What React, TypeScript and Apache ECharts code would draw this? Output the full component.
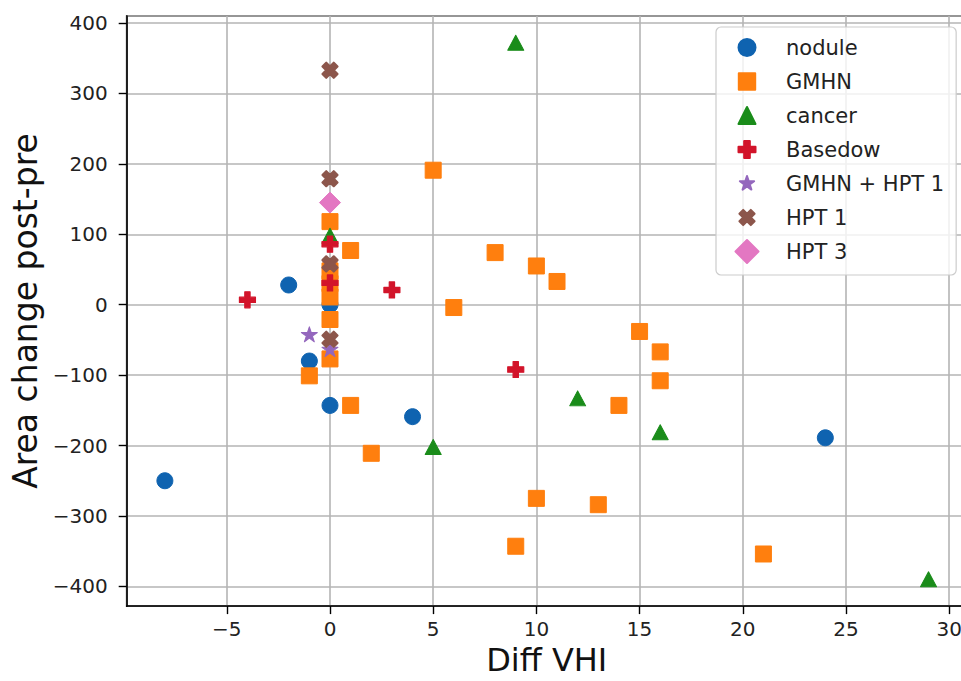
import React, { useEffect, useRef } from 'react';
import * as echarts from 'echarts';

// ---- data ----
const seriesNames = ['nodule', 'GMHN', 'cancer', 'Basedow', 'GMHN + HPT 1', 'HPT 1', 'HPT 3'];

const noduleX = [-8, -2, -1, 0, 0, 4, 24];
const noduleY = [-250, 28, -80, 0, -143, -159, -189];

const gmhnX = [5, 0, 1, 8, 10, 11, 0, 0, 0, 6, 0, 15, 16, 0, 16, -1, 1, 14, 2, 10, 13, 9, 21];
const gmhnY = [191, 118, 77, 74, 55, 33, 48, 30, 11, -4, -21, -38, -67, -77, -108, -101, -143, -143, -211, -275, -284, -343, -354];

const cancerX = [9, 0, 12, 16, 5, 29];
const cancerY = [372, 98, -133, -181, -202, -390];

const basedowX = [-4, 0, 0, 3, 9];
const basedowY = [7, 86, 31, 21, -92];

const gmhnHptX = [-1, 0];
const gmhnHptY = [-42, -63];

const hpt1X = [0, 0, 0, 0];
const hpt1Y = [333, 179, 58, -49];

const hpt3X = [0];
const hpt3Y = [145];

const xTickLabels = [-5, 0, 5, 10, 15, 20, 25, 30];
const yTickLabels = [-400, -300, -200, -100, 0, 100, 200, 300, 400];

const xLabel = 'Diff VHI';
const yLabel = 'Area change post-pre';

// ---- styling ----
const colors = ['#0f63b0', '#ff7f0e', '#1a8c1a', '#d2142a', '#9467bd', '#8c564b', '#e377c2'];

type Pt = [number, number];
const circlePts: Pt[] | null = null;
const squarePts: Pt[] = [[-1, -1], [1, -1], [1, 1], [-1, 1]];
const trianglePts: Pt[] = [[0, -1], [1, 1], [-1, 1]];
const diamondPts: Pt[] = [[0, -1], [1, 0], [0, 1], [-1, 0]];
const plusPts: Pt[] = ([[-1, -3], [-1, -1], [-3, -1], [-3, 1], [-1, 1], [-1, 3], [1, 3], [1, 1], [3, 1], [3, -1], [1, -1], [1, -3]] as Pt[]).map(([a, b]) => [a / 3, b / 3] as Pt);
const xPts: Pt[] = ([[-1, -2], [0, -1], [1, -2], [2, -1], [1, 0], [2, 1], [1, 2], [0, 1], [-1, 2], [-2, 1], [-1, 0], [-2, -1]] as Pt[]).map(([a, b]) => [a / 2, b / 2] as Pt);
const starPts: Pt[] = [];
for (let i = 0; i < 10; i++) {
  const ang = (-90 + i * 36) * Math.PI / 180;
  const r = i % 2 === 0 ? 1 : 0.381966;
  starPts.push([r * Math.cos(ang), r * Math.sin(ang)]);
}

function polyD(pts: Pt[], half: number, cx: number, cy: number) {
  return pts.map(([a, b], i) => (i === 0 ? 'M' : 'L') + (cx + a * half).toFixed(2) + ',' + (cy + b * half).toFixed(2)).join('') + 'Z';
}
function circleD(r: number, cx: number, cy: number) {
  return `M${cx - r},${cy}A${r},${r},0,1,1,${cx + r},${cy}A${r},${r},0,1,1,${cx - r},${cy}Z`;
}

const shapePts: (Pt[] | null)[] = [circlePts, squarePts, trianglePts, plusPts, starPts, xPts, diamondPts];
const scatterSymbols = ['circle', 'rect', 'triangle', 'path://' + polyD(plusPts, 1, 0, 0), 'path://' + polyD(starPts, 1, 0, 0), 'path://' + polyD(xPts, 1, 0, 0), 'diamond'];
const scatterSizes: any[] = [16, 16, [16, 15], 16, [16, 15], 15, 21];
const borderWidths = [1, 1, 1, 1.2, 1, 2.2, 1];
const legendHalf = [8.5, 8.2, 8.5, 8.5, 7.5, 7.6, 11.5];
const LW = 45.5, LH = 23;
const legendIcons = shapePts.map((p, i) => {
  const pad = `M0,0M${LW},${LH}`;
  const body = p ? polyD(p, legendHalf[i], 11.5, 11.5) : circleD(legendHalf[i], 11.5, 11.5);
  return 'path://' + pad + body;
});

const seriesData = [
  [noduleX, noduleY], [gmhnX, gmhnY], [cancerX, cancerY], [basedowX, basedowY],
  [gmhnHptX, gmhnHptY], [hpt1X, hpt1Y], [hpt3X, hpt3Y],
];

const fmtMinus = (v: number) => String(v).replace('-', '\u2212');
const font = 'DejaVu Sans';

export default function App() {
  const ref = useRef<HTMLDivElement>(null);
  useEffect(() => {
    if (!ref.current) return;
    const chart = echarts.init(ref.current, undefined, { renderer: 'svg' });
    const gridLeft = 126.7, gridTop = 16, gridW = 840, gridH = 597.3;
    chart.setOption({
      animation: false,
      backgroundColor: '#ffffff',
      grid: {
        left: gridLeft, top: gridTop, width: gridW, height: gridH,
        show: true, borderColor: '#000', borderWidth: 1.6, backgroundColor: 'transparent',
      },
      xAxis: {
        type: 'value', min: -9.85, max: 30.85, splitNumber: 8, minInterval: 5, maxInterval: 5,
        name: xLabel, nameLocation: 'middle', nameGap: 31,
        nameTextStyle: { fontFamily: font, fontSize: 32, color: '#111' },
        axisLine: { show: true, onZero: false, lineStyle: { color: '#000', width: 1.6 } },
        axisTick: { show: true, length: 8, lineStyle: { color: '#000', width: 1.4 } },
        axisLabel: {
          margin: 13, fontFamily: font, fontSize: 20, color: '#222',
          showMinLabel: false, showMaxLabel: false,
          formatter: (v: number) => (xTickLabels.includes(v) ? fmtMinus(v) : ''),
        },
        splitLine: { show: true, lineStyle: { color: '#b4b4b4', width: 1.6 } },
      },
      yAxis: {
        type: 'value', min: -428, max: 410, splitNumber: 8, minInterval: 100, maxInterval: 100,
        name: yLabel, nameLocation: 'middle', nameGap: 82, nameRotate: 90,
        nameTextStyle: { fontFamily: font, fontSize: 33, color: '#111' },
        axisLine: { show: true, onZero: false, lineStyle: { color: '#000', width: 1.6 } },
        axisTick: { show: true, length: 8, lineStyle: { color: '#000', width: 1.4 } },
        axisLabel: {
          margin: 19, fontFamily: font, fontSize: 20, color: '#222',
          showMinLabel: false, showMaxLabel: false,
          formatter: (v: number) => (yTickLabels.includes(v) ? fmtMinus(v) : ''),
        },
        splitLine: { show: true, lineStyle: { color: '#b4b4b4', width: 1.6 } },
      },
      legend: {
        orient: 'vertical', left: 716, top: 27,
        itemWidth: LW, itemHeight: LH, itemGap: 9,
        padding: [8, 12, 11, 18.5],
        backgroundColor: 'rgba(255,255,255,0.8)',
        borderColor: '#cccccc', borderWidth: 1.2, borderRadius: 5,
        selectedMode: false,
        textStyle: { fontFamily: font, fontSize: 21, color: '#222', lineHeight: 23 },
        data: seriesNames.map((name, i) => ({ name, icon: legendIcons[i] })),
      },
      series: seriesNames.map((name, i) => ({
        name,
        type: 'scatter',
        symbol: scatterSymbols[i],
        symbolSize: scatterSizes[i],
        itemStyle: { color: colors[i], opacity: 1, borderColor: colors[i], borderWidth: borderWidths[i], borderJoin: 'round' },
        emphasis: { disabled: true },
        z: 2 + i,
        data: seriesData[i][0].map((x, k) => [x, seriesData[i][1][k]]),
      })),
    });
    return () => chart.dispose();
  }, []);
  return (
    <div
      ref={ref}
      style={{ position: 'fixed', left: 0, top: 0, width: 980, height: 681, background: '#fff' }}
    />
  );
}
